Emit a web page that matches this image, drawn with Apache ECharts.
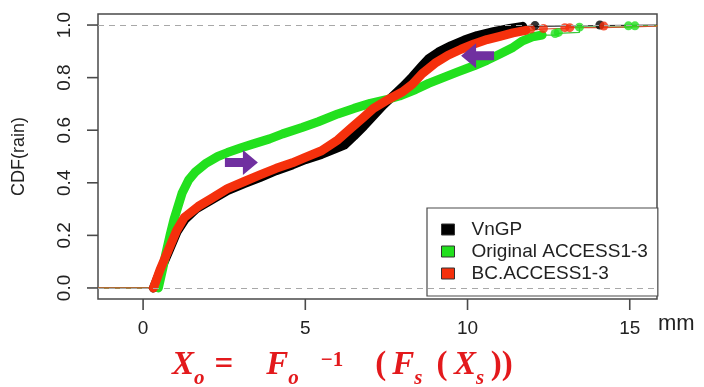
<!DOCTYPE html>
<html>
<head>
<meta charset="utf-8">
<script src="https://cdn.jsdelivr.net/npm/echarts@6/dist/echarts.min.js"></script>
<style>
html,body{margin:0;padding:0;background:#fff;}
#chart{width:704px;height:387px;}
</style>
</head>
<body>
<div id="chart"></div>
<script>
// ---- data (x = rain in mm, y = CDF) ----
const seriesNames = ['VnGP', 'Original ACCESS1-3', 'BC.ACCESS1-3'];
const xTicks = [0, 5, 10, 15];
const yTicks = [0, 0.2, 0.4, 0.6, 0.8, 1.0];

const vngpCurve = [[0.32,0.0],[0.55,0.07],[0.8,0.142],[1.05,0.215],[1.3,0.262],[1.65,0.302],[2.1,0.334],[2.6,0.37],[3.1,0.396],[3.6,0.42],[4.1,0.446],[4.6,0.468],[5.0,0.488],[5.5,0.508],[5.9,0.528],[6.2,0.543],[6.5,0.578],[6.8,0.615],[7.1,0.655],[7.4,0.695],[7.7,0.73],[8.0,0.765],[8.3,0.803],[8.6,0.845],[8.8,0.872],[9.1,0.897],[9.5,0.922],[9.9,0.943],[10.3,0.96],[10.8,0.975],[11.3,0.987],[11.7,0.995]];
const vngpTail = [[12.08,0.998],[14.08,1.0]];

const originalCurve = [[0.47,0.0],[0.6,0.07],[0.7,0.13],[0.83,0.2],[0.95,0.26],[1.05,0.3],[1.2,0.36],[1.4,0.41],[1.6,0.44],[1.95,0.475],[2.3,0.5],[2.6,0.515],[3.0,0.532],[3.4,0.548],[3.9,0.567],[4.3,0.586],[4.9,0.61],[5.4,0.632],[6.0,0.662],[6.5,0.683],[7.0,0.702],[7.5,0.716],[7.9,0.73],[8.4,0.755],[8.8,0.778],[9.25,0.8],[9.7,0.822],[10.2,0.845],[10.6,0.866],[11.0,0.89],[11.4,0.915],[11.7,0.94],[12.0,0.955],[12.3,0.962]];
const originalTail = [[12.7,0.968],[12.8,0.972],[13.45,0.992],[14.96,0.997],[15.16,0.997]];

const bcCurve = [[0.32,0.0],[0.52,0.068],[0.78,0.144],[1.04,0.22],[1.27,0.268],[1.7,0.31],[2.1,0.34],[2.6,0.378],[3.1,0.404],[3.6,0.43],[4.1,0.455],[4.6,0.476],[5.0,0.497],[5.5,0.522],[6.0,0.563],[6.4,0.607],[6.8,0.65],[7.1,0.683],[7.6,0.72],[8.0,0.746],[8.3,0.775],[8.6,0.815],[9.0,0.855],[9.4,0.885],[9.8,0.908],[10.2,0.928],[10.6,0.945],[11.0,0.957],[11.4,0.97],[11.8,0.98]];
const bcTail = [[11.95,0.985],[12.34,0.987],[13.0,0.99],[13.15,0.99],[14.2,0.996]];

const arrowNotes = [
  {coord:[3.03,0.477], dir:'right'},
  {coord:[10.31,0.883], dir:'left'}
];
// ----------------------------------------------------------------

const X_MIN = -1.39, X_MAX = 15.84, Y_MIN = -0.042, Y_MAX = 1.042;
const colors = ['#000000', '#22e01e', '#f5300c'];
const thinColors = ['#333333', '#3cc83c', '#d2552e'];
const curves = [vngpCurve, originalCurve, bcCurve];
const tails = [vngpTail, originalTail, bcTail];
const TICK_LEN = 11, AXIS_COLOR = '#4a4a4a';

const rightArrow = 'path://M0,8 L18,8 L18,0 L33,12.5 L18,25 L18,17 L0,17 Z';
const leftArrow = 'path://M33,8 L15,8 L15,0 L0,12.5 L15,25 L15,17 L33,17 Z';

const series = [];
series.push({
  type:'line', name:'ref', data:[], z:0, silent:true,
  markLine:{
    silent:true, symbol:['none','none'], label:{show:false},
    lineStyle:{color:'#a8a8a8', type:[6,5], width:1},
    data:[{yAxis:0},{yAxis:1}]
  }
});
curves.forEach((c, i) => {
  series.push({
    type:'line', name:'ext'+i, z:1, silent:true, showSymbol:false,
    data:[[X_MIN,0],[c[0][0],0]],
    lineStyle:{color:thinColors[i], width:1.2}
  });
  series.push({
    type:'line', name:'ext2'+i, z:1, silent:true, showSymbol:false, step:'end',
    data:[c[c.length-1]].concat(tails[i]).concat([[X_MAX,1]]),
    lineStyle:{color:thinColors[i], width:1.2}
  });
});
curves.forEach((c, i) => {
  series.push({
    type:'line', name:seriesNames[i], z:2+i, showSymbol:false, smooth:false,
    data:c, color:colors[i],
    lineStyle:{color:colors[i], width:9, cap:'round', join:'round'}
  });
  series.push({
    type:'scatter', name:seriesNames[i], z:2+i, symbolSize:9,
    data:tails[i], itemStyle:{color:colors[i]}
  });
});
series.push({
  type:'scatter', name:'arrows', data:[], z:10, silent:true,
  markPoint:{
    silent:true,
    label:{show:false},
    itemStyle:{color:'#7030a0'},
    data:arrowNotes.map(a => ({coord:a.coord, symbol: a.dir==='right'?rightArrow:leftArrow, symbolSize:[33,25], symbolKeepAspect:false}))
  }
});

const red = '#e3191c';
const serif = 'Liberation Serif';
const FS = 33;
const main = (padL) => ({fontFamily:serif, fontStyle:'italic', fontWeight:'bold', fontSize:FS, fill:red, lineHeight:48, padding:[0,0,0,padL]});
const upright = (padL) => ({fontFamily:serif, fontWeight:'bold', fontSize:FS, fill:red, lineHeight:48, padding:[0,0,0,padL]});
const chart = echarts.init(document.getElementById('chart'), null, {renderer:'canvas'});
chart.setOption({
  animation:false,
  backgroundColor:'#ffffff',
  grid:{left:98, top:14, width:559, height:285, show:true, borderColor:AXIS_COLOR, borderWidth:1.5, backgroundColor:'transparent'},
  xAxis:{
    type:'value', min:X_MIN, max:X_MAX, position:'bottom',
    axisLine:{show:false, onZero:false},
    splitLine:{show:false},
    axisTick:{show:false},
    axisLabel:{customValues:xTicks, margin:20, fontFamily:'Liberation Sans', fontSize:19, color:'#222'}
  },
  yAxis:{
    type:'value', min:Y_MIN, max:Y_MAX, position:'left',
    name:'CDF(rain)', nameLocation:'middle', nameGap:70,
    nameTextStyle:{fontFamily:'Liberation Sans', fontSize:18, color:'#222'},
    axisLine:{show:false, onZero:false},
    splitLine:{show:false},
    axisTick:{show:false},
    axisLabel:{customValues:yTicks, rotate:90, margin:24, fontFamily:'Liberation Sans', fontSize:19, color:'#222',
      formatter:v => v.toFixed(1)}
  },
  legend:{
    data:seriesNames.map((n,i)=>({name:n, itemStyle:{color:colors[i], borderColor:'#333', borderWidth:1}})),
    orient:'vertical', left:427, top:208,
    icon:'rect', itemWidth:13, itemHeight:11, itemGap:3,
    padding:[12,10,13,14],
    borderColor:AXIS_COLOR, borderWidth:1.2, backgroundColor:'#fff',
    textStyle:{fontFamily:'Liberation Sans', fontSize:19, color:'#222', padding:[0,0,0,12], lineHeight:19},
    selectedMode:false
  },
  graphic:[
    {type:'text', id:'mm', left:658, top:313, style:{text:'mm', fontFamily:'Liberation Sans', fontSize:22, fill:'#222'}},
    {type:'text', id:'formula', left:172, top:341, style:{
      text:'{m|X}{sub|o}{eq|=}{f1|F}{sub|o}{sup|−1}{p1|(}{f2|F}{sub|s}{p2|(}{x2|X}{sub|s}{p3|))}',
      rich:{
        m:main(0), f1:main(33), f2:main(6), x2:main(6.5),
        eq:upright(10), p1:upright(32), p2:upright(14), p3:upright(6.5),
        sub:{fontFamily:serif, fontStyle:'italic', fontWeight:'bold', fontSize:21, fill:red, lineHeight:20, verticalAlign:'bottom'},
        sup:{fontFamily:serif, fontWeight:'bold', fontSize:21, fill:red, lineHeight:22, verticalAlign:'top', padding:[9,0,0,22]}
      }
    }}
  ],
  series:series
});

// outward axis ticks, positioned through the chart's own axis scales
const tickGraphics = [];
yTicks.forEach((v, i) => {
  const p = chart.convertToPixel({seriesIndex:1}, [X_MIN, v]);
  tickGraphics.push({type:'line', id:'yt'+i, z:50, shape:{x1:p[0]-TICK_LEN, y1:p[1], x2:p[0], y2:p[1]}, style:{stroke:AXIS_COLOR, lineWidth:1.6}});
});
xTicks.forEach((v, i) => {
  const p = chart.convertToPixel({seriesIndex:1}, [v, Y_MIN]);
  tickGraphics.push({type:'line', id:'xt'+i, z:50, shape:{x1:p[0], y1:p[1], x2:p[0], y2:p[1]+TICK_LEN}, style:{stroke:AXIS_COLOR, lineWidth:1.6}});
});
chart.setOption({graphic:tickGraphics});
</script>
</body>
</html>
